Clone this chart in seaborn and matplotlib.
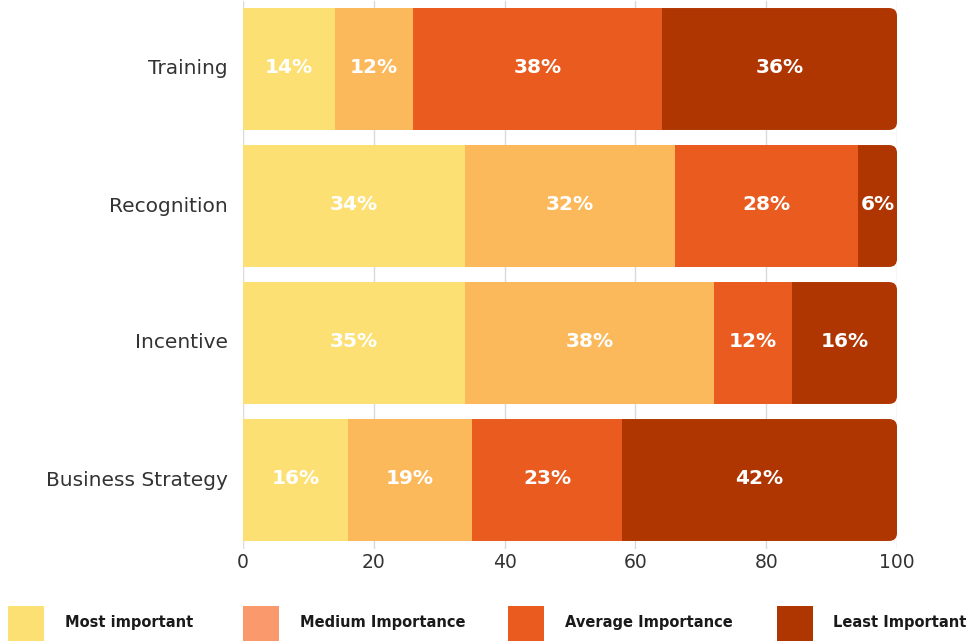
import numpy as np
import pandas as pd
import matplotlib
matplotlib.use("Agg")
import matplotlib.pyplot as plt
import seaborn as sns
from matplotlib.patches import FancyBboxPatch, Rectangle

categories = ["Training", "Recognition", "Incentive", "Business Strategy"]
most = [14, 34, 34, 16]
medium = [12, 32, 38, 19]
average = [38, 28, 12, 23]
least = [36, 6, 16, 42]
most_lbl = ["14%", "34%", "35%", "16%"]
medium_lbl = ["12%", "32%", "38%", "19%"]
average_lbl = ["38%", "28%", "12%", "23%"]
least_lbl = ["36%", "6%", "16%", "42%"]
series_names = ["Most important", "Medium Importance", "Average Importance", "Least Important"]
bar_colors = ["#FDE073", "#FBB95B", "#E95B1F", "#AF3501"]
legend_colors = ["#FDE073", "#FA996B", "#E95B1F", "#AF3501"]
xticks = [0, 20, 40, 60, 80, 100]

sns.set_theme(style="white")
plt.rcParams["font.family"] = ["DejaVu Sans"]

fig = plt.figure(figsize=(9.73, 6.41), dpi=100)
ax = fig.add_axes([243 / 973, 1 - 548.5 / 641, 654 / 973, 548 / 641])

vals = np.array([most, medium, average, least], dtype=float)
cum = np.cumsum(vals, axis=0)
labels = [most_lbl, medium_lbl, average_lbl, least_lbl]

# draw cumulative bars from the top layer down
for i in range(3, -1, -1):
    df = pd.DataFrame({"cat": categories, "val": cum[i]})
    sns.barplot(data=df, x="val", y="cat", orient="h", color=bar_colors[i],
                saturation=1, width=0.89, ax=ax, zorder=2, linewidth=0)

# round right corners of the full-length bars
px_per_x = 654 / 100
px_per_y = 137
r = 8
rx = r / px_per_x
aspect = (r / px_per_y) / rx
for p in list(ax.containers[0]):
    x0, y0 = p.get_x(), p.get_y()
    w, h = p.get_width(), p.get_height()
    fc = p.get_facecolor()
    p.remove()
    fb = FancyBboxPatch((x0, y0), w, h,
                        boxstyle=f"round,pad=0,rounding_size={rx}",
                        mutation_aspect=aspect, facecolor=fc, edgecolor="none",
                        zorder=2)
    ax.add_patch(fb)
for p in ax.containers[3]:
    p.set_zorder(3)
for c in ax.containers[1:3]:
    for p in c:
        p.set_zorder(2.5)

# segment labels
for i in range(4):
    left = cum[i] - vals[i]
    for j in range(len(categories)):
        ax.text(left[j] + vals[i][j] / 2, j - 0.01, labels[i][j], ha="center", va="center",
                color="white", fontsize=14.5, fontweight="bold", zorder=5)

ax.set_xlim(0, 100)
ax.set_ylim(3.5, -0.5)
ax.set_xticks(xticks)
ax.set_xticklabels([str(t) for t in xticks])
ax.set_xlabel("")
ax.set_ylabel("")
ax.grid(axis="x", color="#DADADA", linewidth=1, zorder=0)
ax.grid(axis="y", visible=False)
ax.set_axisbelow(True)
for s in ax.spines.values():
    s.set_visible(False)
ax.tick_params(axis="y", length=0, pad=11, labelsize=14.5, labelcolor="#333333")
ax.tick_params(axis="x", length=0, pad=3, labelsize=13.5, labelcolor="#333333")
for t in ax.get_yticklabels():
    t.set_y(t.get_position()[1])
    t.set_va("center")

# legend
sq_x = [8, 243, 508, 777]
tx_x = [65, 300, 565, 833]
for k in range(4):
    fig.add_artist(Rectangle((sq_x[k] / 973, 0), 36 / 973, 35 / 641,
                             transform=fig.transFigure, facecolor=legend_colors[k],
                             edgecolor="none"))
    fig.text(tx_x[k] / 973, 1 - 623 / 641, series_names[k], ha="left", va="center",
             fontsize=10.5, fontweight="bold", color="#1a1a1a")

fig.savefig("out.png", dpi=100)
